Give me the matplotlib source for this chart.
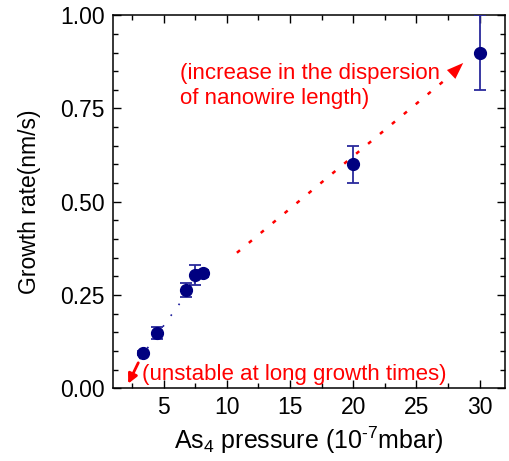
import numpy as np
import matplotlib
matplotlib.use("Agg")
import matplotlib.pyplot as plt
from matplotlib.ticker import MultipleLocator, FormatStrFormatter

plt.rcParams["font.family"] = ["Liberation Sans", "DejaVu Sans"]
plt.rcParams["mathtext.fontset"] = "custom"
plt.rcParams["mathtext.rm"] = "Liberation Sans"
plt.rcParams["mathtext.it"] = "Liberation Sans:italic"

# measured growth rates
pressure = [3.4, 4.5, 6.8, 7.5, 8.1, 20, 30]
rate = [0.094, 0.148, 0.263, 0.304, 0.308, 0.60, 0.90]
rate_err = [0.006, 0.017, 0.018, 0.027, 0.010, 0.05, 0.10]

# guide lines (low-pressure linear trend, high-pressure trend)
low_fit_x = [3.1, 8.0]
low_fit_y = [0.078, 0.308]
high_fit_x = [10.8, 27.6]
high_fit_y = [0.363, 0.836]

# arrow heads at the line ends
high_arrow_from = (27.4, 0.830)
high_arrow_to = (28.7, 0.872)
low_arrow_from = (3.0, 0.068)
low_arrow_to = (2.2, 0.012)

fig = plt.figure(figsize=(5.09, 4.61), dpi=100)
ax = fig.add_axes([0.222, 0.158, 0.770, 0.809])

ax.plot(low_fit_x, low_fit_y, color="#1a1a9a", lw=1.2,
        linestyle=(0, (1, 7)), zorder=1)
ax.plot(high_fit_x, high_fit_y, color="red", lw=1.8,
        linestyle=(0, (1.6, 4.6)), zorder=1)

ax.annotate("", xy=high_arrow_to, xytext=high_arrow_from,
            arrowprops=dict(arrowstyle="-|>,head_length=0.6,head_width=0.22",
                            color="red", lw=0,
                            mutation_scale=20, shrinkA=0, shrinkB=0))
ax.annotate("", xy=low_arrow_to, xytext=low_arrow_from,
            arrowprops=dict(arrowstyle="-|>", color="red", lw=2,
                            mutation_scale=14, shrinkA=0, shrinkB=0))

ax.errorbar(pressure, rate, yerr=rate_err, fmt="o", color="#000080",
            ecolor="#2a2a9c", elinewidth=1.3, capsize=4, capthick=1.3,
            markersize=8.5, zorder=3)

ax.text(6.3, 0.81, "(increase in the dispersion\nof nanowire length)",
        color="red", fontsize=16, ha="left", va="center", linespacing=1.2)
ax.text(3.3, 0.037, "(unstable at long growth times)",
        color="red", fontsize=16, ha="left", va="center")

ax.set_xlim(1, 32)
ax.set_ylim(0, 1.0)
ax.xaxis.set_major_locator(MultipleLocator(5))
ax.xaxis.set_minor_locator(MultipleLocator(2.5))
ax.yaxis.set_major_locator(MultipleLocator(0.25))
ax.yaxis.set_minor_locator(MultipleLocator(0.05))
ax.yaxis.set_major_formatter(FormatStrFormatter("%.2f"))
ax.tick_params(which="both", direction="in", top=True, right=True,
               labelsize=16.5, width=1)
ax.tick_params(which="major", length=6, pad=6)
ax.tick_params(which="minor", length=3.5)
ax.set_xticks([5, 10, 15, 20, 25, 30])
for s in ax.spines.values():
    s.set_linewidth(1.1)

ax.set_xlabel("As$_4$ pressure (10$^{\\text{-}7}$mbar)", fontsize=18, labelpad=4)
ax.set_ylabel("Growth rate(nm/s)", fontsize=16.5, labelpad=14)

fig.savefig("out.png", dpi=100)
